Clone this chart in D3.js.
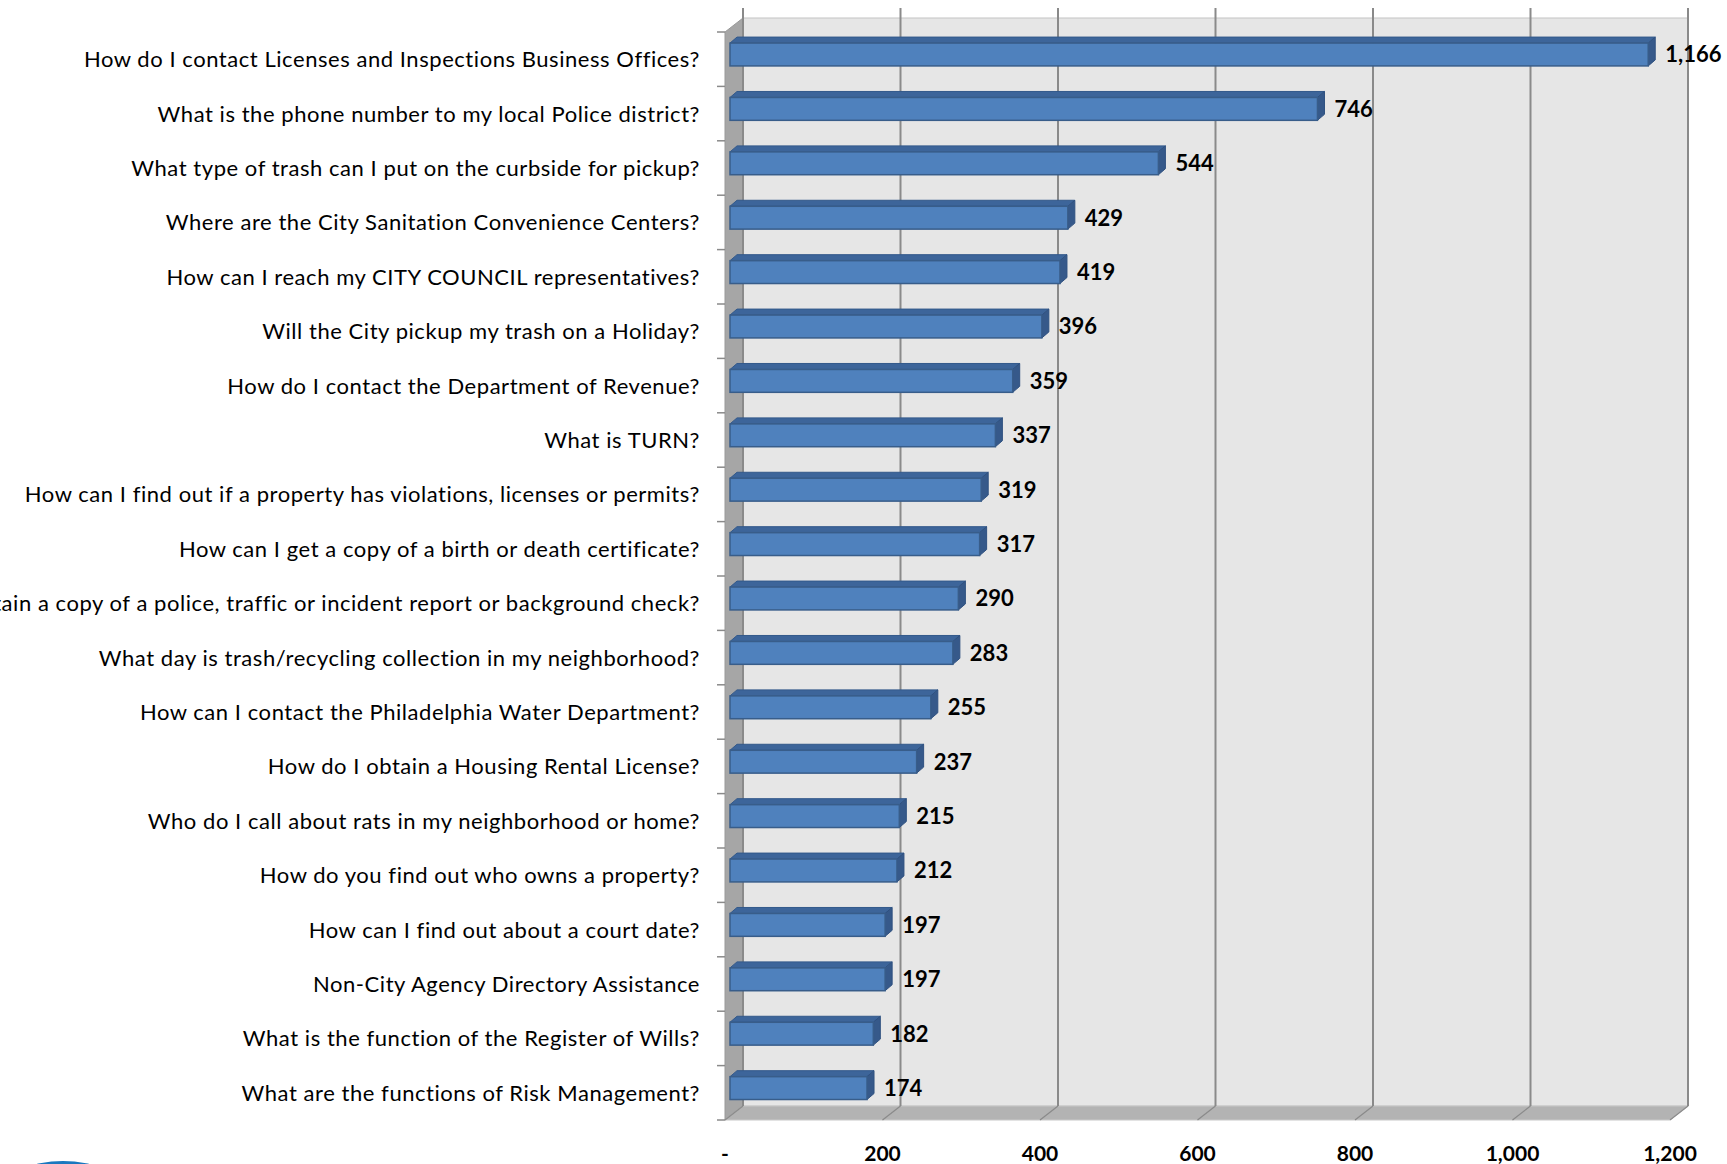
<!DOCTYPE html>
<html>
<head>
<meta charset="utf-8">
<script src="https://cdn.jsdelivr.net/npm/d3@7"></script>
<style>
  body { margin: 0; background: #fff; overflow: hidden; }
  text { font-family: Lato, "Open Sans", sans-serif; fill: #000; }
</style>
</head>
<body>
<svg id="main-svg" width="1727" height="1164"></svg>
<script>
var questions = [
  "How do I contact Licenses and Inspections Business Offices?",
  "What is the phone number to my local Police district?",
  "What type of trash can I put on the curbside for pickup?",
  "Where are the City Sanitation Convenience Centers?",
  "How can I reach my CITY COUNCIL representatives?",
  "Will the City pickup my trash on a Holiday?",
  "How do I contact the Department of Revenue?",
  "What is TURN?",
  "How can I find out if a property has violations, licenses or permits?",
  "How can I get a copy of a birth or death certificate?",
  "How can I obtain a copy of a police, traffic or incident report or background check?",
  "What day is trash/recycling collection in my neighborhood?",
  "How can I contact the Philadelphia Water Department?",
  "How do I obtain a Housing Rental License?",
  "Who do I call about rats in my neighborhood or home?",
  "How do you find out who owns a property?",
  "How can I find out about a court date?",
  "Non-City Agency Directory Assistance",
  "What is the function of the Register of Wills?",
  "What are the functions of Risk Management?"
];
var counts = [1166, 746, 544, 429, 419, 396, 359, 337, 319, 317, 290, 283, 255, 237, 215, 212, 197, 197, 182, 174];
var tickValues = [0, 200, 400, 600, 800, 1000, 1200];
var tickLabels = ["-", "200", "400", "600", "800", "1,000", "1,200"];

var svg = d3.select("#main-svg");

// front plane of the 3d box
var x = d3.scaleLinear().domain([0, 1200]).range([725, 1670]);
var y = d3.scaleBand().domain(questions).range([32, 1120])
          .paddingInner(0.58).paddingOuter(0.29);
var yEdge = d3.scaleBand().domain(questions).range([32, 1120]);

var depth = {dx: 18, dy: -14};      // back wall offset
var barOff = {dx: 5, dy: -4.7};     // bar front face offset
var barDepth = {dx: 7, dy: -6};     // bar thickness

var x0 = x(0), x1 = x(1200), yTop = 32, yBot = 1120;

// blue logo blip at bottom left
svg.append("circle")
   .attr("cx", 63).attr("cy", 1279).attr("r", 118)
   .style("fill", "#1a78bf");

// back wall
svg.append("rect")
   .attr("x", x0 + depth.dx).attr("y", yTop + depth.dy)
   .attr("width", x1 - x0).attr("height", yBot - yTop)
   .style("fill", "#e6e6e6")
   .style("stroke", "#c4c4c4").style("stroke-width", 1);

// side wall
svg.append("polygon")
   .attr("points", [[x0, yTop], [x0 + depth.dx, yTop + depth.dy],
                    [x0 + depth.dx, yBot + depth.dy], [x0, yBot]].join(" "))
   .style("fill", "#a6a6a6").style("stroke", "#999").style("stroke-width", 1);

// floor
svg.append("polygon")
   .attr("points", [[x0, yBot], [x0 + depth.dx, yBot + depth.dy],
                    [x1 + depth.dx, yBot + depth.dy], [x1, yBot]].join(" "))
   .style("fill", "#b3b3b3").style("stroke", "#c8c8c8").style("stroke-width", 1);

// gridlines on back wall + floor
var grid = svg.append("g").style("stroke", "#8a8a8a").style("stroke-width", 2);
grid.selectAll("line.back")
    .data(tickValues).enter().append("line")
    .attr("class", "back")
    .attr("x1", function(d) { return x(d) + depth.dx; })
    .attr("x2", function(d) { return x(d) + depth.dx; })
    .attr("y1", 8)
    .attr("y2", yBot + depth.dy);
grid.selectAll("line.floor")
    .data(tickValues).enter().append("line")
    .attr("class", "floor")
    .style("stroke-width", 1.2)
    .attr("x1", function(d) { return x(d) + depth.dx; })
    .attr("y1", yBot + depth.dy)
    .attr("x2", function(d) { return x(d); })
    .attr("y2", yBot);

// category ticks on the front left edge
svg.append("g").style("stroke", "#8a8a8a").style("stroke-width", 1.5)
   .selectAll("line")
   .data(questions.concat(["_end"])).enter().append("line")
   .attr("x1", x0 - 8).attr("x2", x0)
   .attr("y1", function(d, i) { return yTop + i * yEdge.step(); })
   .attr("y2", function(d, i) { return yTop + i * yEdge.step(); });

// bars
var bars = svg.append("g").selectAll("g")
   .data(counts).enter().append("g");

function fx(d) { return x(d) + barOff.dx; }
function ft(d, i) { return y(questions[i]) + barOff.dy; }
var bh = y.bandwidth();

bars.append("polygon")   // top face
    .attr("points", function(d, i) {
      var a = x0 + barOff.dx, b = fx(d), t = ft(d, i);
      return [[a, t], [a + barDepth.dx, t + barDepth.dy],
              [b + barDepth.dx, t + barDepth.dy], [b, t]].join(" ");
    })
    .style("fill", "#3d659a").style("stroke", "#33598a").style("stroke-width", 1);

bars.append("polygon")   // side face
    .attr("points", function(d, i) {
      var b = fx(d), t = ft(d, i);
      return [[b, t], [b + barDepth.dx, t + barDepth.dy],
              [b + barDepth.dx, t + bh + barDepth.dy], [b, t + bh]].join(" ");
    })
    .style("fill", "#36598a").style("stroke", "#2f5180").style("stroke-width", 1);

bars.append("rect")      // front face
    .attr("x", x0 + barOff.dx)
    .attr("y", function(d, i) { return ft(d, i); })
    .attr("width", function(d) { return x(d) - x0; })
    .attr("height", bh)
    .style("fill", "#4f81bd").style("stroke", "#385d8a").style("stroke-width", 1.5);

// value labels
svg.append("g").selectAll("text")
   .data(counts).enter().append("text")
   .attr("x", function(d) { return fx(d) + barDepth.dx + 10; })
   .attr("y", function(d, i) { return ft(d, i) + bh / 2; })
   .attr("dy", "0.36em")
   .style("font-size", "22px").style("font-weight", "bold")
   .text(function(d) { return d3.format(",")(d); });

// category labels
svg.append("g").selectAll("text")
   .data(questions).enter().append("text")
   .attr("x", 700)
   .attr("y", function(d) { return yEdge(d) + yEdge.bandwidth() / 2; })
   .attr("dy", "0.36em")
   .attr("text-anchor", "end")
   .style("font-size", "22px")
   .style("letter-spacing", "0.55px")
   .text(function(d) { return d; });

// value axis labels
svg.append("g").selectAll("text")
   .data(tickValues).enter().append("text")
   .attr("x", function(d) { return x(d); })
   .attr("y", 1153)
   .attr("dy", "0.36em")
   .attr("text-anchor", "middle")
   .style("font-size", "21px").style("font-weight", "bold")
   .text(function(d, i) { return tickLabels[i]; });
</script>
</body>
</html>
